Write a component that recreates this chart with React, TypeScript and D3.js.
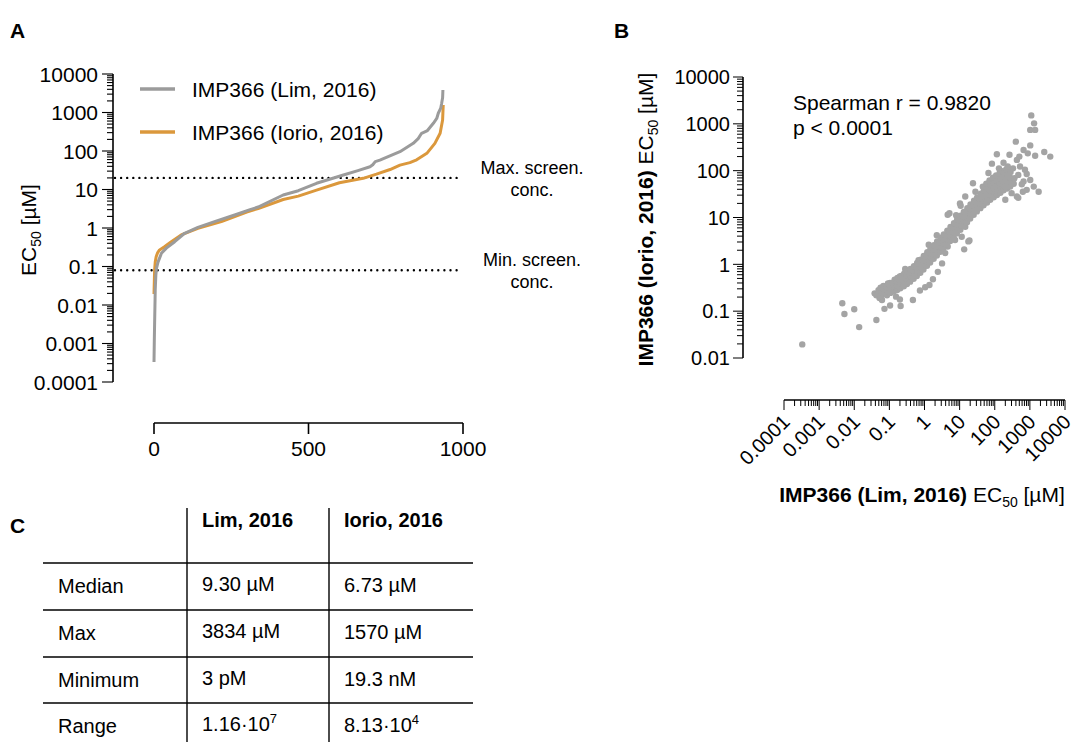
import React from 'react';
import * as d3 from 'd3';

const FONT = 'Liberation Sans, Arial, Helvetica, sans-serif';
const GREY = '#9b9b9b';
const ORANGE = '#db983c';
const DOT = '#a4a4a4';

// Panel A - ranked EC50 curves, [rank, EC50 in µM]
const limCurve: [number, number][] = [
  [0, 0.00033], [1, 0.0012], [2, 0.0034], [3, 0.009], [4, 0.025], [6, 0.06], [8, 0.09],
  [13, 0.13], [24, 0.22], [40, 0.3], [67, 0.44], [99, 0.73], [142, 1.04], [196, 1.46],
  [261, 2.18], [311, 3.0], [337, 3.5], [418, 7.2], [467, 9.3], [526, 14.5], [613, 23.8],
  [660, 31], [699, 39], [708, 44], [716, 53], [731, 58], [796, 96], [839, 158], [855, 210],
  [866, 288], [885, 340], [904, 525], [915, 700], [920, 955], [928, 1300], [931, 1730],
  [934, 2400], [935, 3834],
];
const iorioCurve: [number, number][] = [
  [0, 0.0193], [1, 0.04], [2, 0.081], [4, 0.13], [7, 0.18], [12, 0.23], [18, 0.27],
  [35, 0.33], [56, 0.44], [88, 0.66], [142, 0.98], [218, 1.46], [300, 2.6], [337, 3.2],
  [418, 5.5], [467, 6.73], [526, 9.6], [600, 15], [677, 19.5], [720, 25], [764, 33],
  [796, 43], [828, 50], [850, 59], [883, 87], [909, 158], [926, 288], [934, 640], [936, 1570],
];
const screenLines = [20, 0.08];
const screenLabels = [['Max. screen.', 'conc.'], ['Min. screen.', 'conc.']];
const rankTicks = [0, 500, 1000];
const legendNames = ['IMP366 (Lim, 2016)', 'IMP366 (Iorio, 2016)'];

// Panel B - log10 EC50 (µM): [Lim, Iorio]
const scatterLog: [number, number][] = [
  // stragglers below / left of the band
  [-3.48, -1.71], [-2.34, -0.83], [-2.28, -1.06], [-2.0, -0.96], [-1.86, -1.34], [-1.37, -1.19],
  [-1.37, -0.66], [-1.3, -0.6], [-1.26, -0.58], [-1.21, -0.76], [-1.14, -0.95], [-0.98, -0.88],
  [-0.81, -0.69], [-0.7, -0.75], [-0.68, -0.89], [-0.33, -0.76], [-0.13, -0.56], [0.02, -0.49],
  [0.14, -0.44], [0.24, -0.32], [0.38, -0.16], [0.5, 0.02], [0.59, 0.24], [0.66, 0.38],
  [0.87, 0.52], [1.06, 0.59], [1.13, 0.32], [1.25, 0.49], [1.16, 0.8], [1.28, 0.51],
  [-0.98, -0.4], [-0.7, -0.26], [-0.17, 0.09], [0.35, 0.62], [0.71, 1.09], [0.66, 1.06],
  [1.01, 1.3], [1.03, 1.25], [1.16, 1.45], [1.38, 1.73], [-1.42, -0.62], [-1.28, -0.72],
  [-0.55, -0.1], [0.12, 0.42], [0.9, 1.05], [1.45, 1.55],
  // dense band
  [-1.33, -0.64], [-1.31, -0.55], [-1.24, -0.68], [-1.22, -0.59], [-1.25, -0.5],
  [-1.16, -0.63], [-1.14, -0.54], [-1.17, -0.46], [-1.07, -0.66], [-1.05, -0.57],
  [-1.08, -0.49], [-1.04, -0.41], [-0.97, -0.61], [-0.95, -0.51], [-0.99, -0.43],
  [-0.88, -0.58], [-0.86, -0.48], [-0.9, -0.39], [-0.85, -0.33], [-0.78, -0.55],
  [-0.76, -0.45], [-0.8, -0.36], [-0.77, -0.29], [-0.69, -0.51], [-0.67, -0.41],
  [-0.7, -0.33], [-0.66, -0.25], [-0.59, -0.47], [-0.57, -0.37], [-0.61, -0.28],
  [-0.58, -0.2], [-0.5, -0.42], [-0.48, -0.32], [-0.51, -0.23], [-0.47, -0.15],
  [-0.41, -0.37], [-0.39, -0.27], [-0.42, -0.18], [-0.4, -0.1], [-0.31, -0.31],
  [-0.29, -0.21], [-0.33, -0.12], [-0.3, -0.04], [-0.22, -0.25], [-0.2, -0.15],
  [-0.23, -0.06], [-0.21, 0.03], [-0.12, -0.18], [-0.1, -0.08], [-0.13, 0.02],
  [-0.11, 0.1], [-0.03, -0.11], [-0.01, -0.01], [-0.04, 0.09], [-0.02, 0.18],
  [0.07, -0.03], [0.09, 0.07], [0.06, 0.16], [0.08, 0.26], [0.16, 0.04], [0.18, 0.14],
  [0.15, 0.24], [0.17, 0.34], [0.26, 0.12], [0.28, 0.21], [0.25, 0.31], [0.27, 0.41],
  [0.35, 0.19], [0.37, 0.29], [0.34, 0.39], [0.36, 0.49], [0.45, 0.27], [0.47, 0.37],
  [0.44, 0.47], [0.46, 0.57], [0.54, 0.35], [0.56, 0.45], [0.53, 0.54], [0.55, 0.64],
  [0.64, 0.43], [0.66, 0.53], [0.63, 0.62], [0.65, 0.72], [0.73, 0.5], [0.75, 0.6],
  [0.72, 0.7], [0.74, 0.8], [0.83, 0.58], [0.85, 0.68], [0.82, 0.78], [0.84, 0.88],
  [0.92, 0.66], [0.94, 0.76], [0.91, 0.86], [0.93, 0.96], [1.02, 0.74], [1.04, 0.84],
  [1.01, 0.94], [1.03, 1.04], [1.11, 0.82], [1.13, 0.92], [1.1, 1.02], [1.12, 1.12],
  [1.21, 0.9], [1.23, 1.0], [1.2, 1.1], [1.22, 1.2], [1.3, 0.98], [1.32, 1.08],
  [1.29, 1.18], [1.31, 1.28], [1.4, 1.06], [1.42, 1.16], [1.39, 1.26], [1.41, 1.36],
  [1.49, 1.13], [1.51, 1.23], [1.48, 1.33], [1.5, 1.43], [1.59, 1.2], [1.61, 1.3],
  [1.58, 1.4], [1.6, 1.51], [1.68, 1.26], [1.7, 1.36], [1.67, 1.46], [1.69, 1.57],
  [1.66, 1.66], [1.78, 1.32], [1.8, 1.42], [1.77, 1.52], [1.79, 1.63], [1.76, 1.72],
  [1.87, 1.38], [1.89, 1.48], [1.86, 1.58], [1.88, 1.69], [1.85, 1.79], [1.97, 1.43],
  [1.99, 1.53], [1.96, 1.63], [1.98, 1.74], [1.95, 1.85], [2.06, 1.48], [2.08, 1.58],
  [2.05, 1.68], [2.07, 1.79], [2.04, 1.9], [2.16, 1.53], [2.18, 1.63], [2.15, 1.73],
  [2.17, 1.84], [2.14, 1.95], [2.25, 1.58], [2.27, 1.68], [2.24, 1.78], [2.26, 1.88],
  [2.23, 1.99], [2.35, 1.62], [2.37, 1.72], [2.34, 1.82], [2.36, 1.93], [2.33, 2.03],
  [2.44, 1.66], [2.46, 1.76], [2.43, 1.86], [2.45, 1.97], [2.54, 1.72], [2.56, 1.84],
  // scatter at the top end
  [3.04, 3.18], [3.12, 3.01], [3.01, 2.87], [3.15, 2.87], [2.6, 2.62], [3.01, 2.54],
  [2.06, 2.35], [2.42, 2.34], [2.82, 2.44], [2.94, 2.37], [3.41, 2.4], [3.58, 2.3],
  [3.15, 2.32], [1.92, 2.15], [2.25, 2.17], [2.37, 2.09], [2.63, 2.23], [2.72, 2.09],
  [2.86, 2.02], [2.67, 1.91], [2.91, 1.93], [2.82, 1.77], [3.01, 1.8], [2.77, 1.71],
  [3.11, 1.66], [2.91, 1.59], [2.8, 1.55], [3.25, 1.55], [2.67, 1.42], [2.48, 1.52],
  [2.3, 1.38], [2.63, 1.45], [2.52, 2.05], [2.12, 2.05], [1.82, 1.95], [2.7, 2.3],
];
const spearmanText = ['Spearman r = 0.9820', 'p < 0.0001'];

// Panel C - summary table
const tableColumns = ['Lim, 2016', 'Iorio, 2016'];
const tableRows = ['Median', 'Max', 'Minimum', 'Range'];
const limStats = ['9.30 µM', '3834 µM', '3 pM', '1.16·10^7'];
const iorioStats = ['6.73 µM', '1570 µM', '19.3 nM', '8.13·10^4'];

const isDecade = (v: number) => Math.abs(Math.log10(v) - Math.round(Math.log10(v))) < 1e-6;
const fmt = (v: number) => String(+v.toPrecision(1));

function Sup({ s }: { s: string }) {
  const [base, exp] = s.split('^');
  if (!exp) return <>{s}</>;
  return (
    <>
      {base}
      <tspan dy={-8} fontSize={13}>{exp}</tspan>
    </>
  );
}

function PanelA() {
  const x = d3.scaleLinear().domain([0, 1000]).range([154, 463]);
  const y = d3.scaleLog().domain([0.0001, 10000]).range([382, 74]);
  const ticks = y.ticks();
  const line = d3.line<[number, number]>().x(d => x(d[0])).y(d => y(d[1]));
  const axisX = 113;
  return (
    <g>
      {/* y axis */}
      <line x1={axisX} x2={axisX} y1={y(10000)} y2={y(0.0001)} stroke="#000" strokeWidth={1.6} />
      {ticks.map((t, i) => (
        <line key={i} x1={axisX - (isDecade(t) ? 11 : 6)} x2={axisX} y1={y(t)} y2={y(t)} stroke="#000" strokeWidth={1.1} />
      ))}
      {ticks.filter(isDecade).map((t, i) => (
        <text key={i} x={98} y={y(t)} dy="0.36em" textAnchor="end" fontSize={21}>{fmt(t)}</text>
      ))}
      <text transform={`translate(36,${(y(10000) + y(0.0001)) / 2 + 2}) rotate(-90)`} textAnchor="middle" fontSize={21}>
        EC<tspan dy={5} fontSize={14}>50</tspan><tspan dy={-5}> [µM]</tspan>
      </text>
      {/* x axis */}
      <line x1={x(0)} x2={x(1000)} y1={423} y2={423} stroke="#000" strokeWidth={1.6} />
      {rankTicks.map(t => (
        <g key={t}>
          <line x1={x(t)} x2={x(t)} y1={423} y2={434} stroke="#000" strokeWidth={1.6} />
          <text x={x(t)} y={456} textAnchor="middle" fontSize={21}>{t}</text>
        </g>
      ))}
      {/* screening limits */}
      {screenLines.map((v, i) => (
        <g key={i}>
          <line x1={axisX + 2} x2={460} y1={y(v)} y2={y(v)} stroke="#000" strokeWidth={2.4} strokeDasharray="0 6.1" strokeLinecap="round" />
          <text x={532} y={y(v) - 4} textAnchor="middle" fontSize={18}>{screenLabels[i][0]}</text>
          <text x={532} y={y(v) + 18} textAnchor="middle" fontSize={18}>{screenLabels[i][1]}</text>
        </g>
      ))}
      {/* curves */}
      <path d={line(iorioCurve) || ''} fill="none" stroke={ORANGE} strokeWidth={3} strokeLinejoin="round" />
      <path d={line(limCurve) || ''} fill="none" stroke={GREY} strokeWidth={3} strokeLinejoin="round" />
      {/* legend */}
      {legendNames.map((n, i) => (
        <g key={n}>
          <line x1={140} x2={175} y1={89 + i * 43} y2={89 + i * 43} stroke={i === 0 ? GREY : ORANGE} strokeWidth={3.5} />
          <text x={192} y={97 + i * 43} fontSize={21}>{n}</text>
        </g>
      ))}
    </g>
  );
}

function PanelB() {
  const x = d3.scaleLog().domain([0.0001, 10000]).range([784, 1065]);
  const y = d3.scaleLog().domain([0.01, 10000]).range([358, 77]);
  const xt = x.ticks();
  const yt = y.ticks();
  const axisX = 743;
  const axisY = 400;
  return (
    <g>
      <line x1={axisX} x2={axisX} y1={y(10000)} y2={y(0.01)} stroke="#000" strokeWidth={1.6} />
      {yt.map((t, i) => (
        <line key={i} x1={axisX - (isDecade(t) ? 10 : 6)} x2={axisX} y1={y(t)} y2={y(t)} stroke="#000" strokeWidth={1} />
      ))}
      {yt.filter(isDecade).map((t, i) => (
        <text key={i} x={730} y={y(t)} dy="0.36em" textAnchor="end" fontSize={20}>{fmt(t)}</text>
      ))}
      <text transform={`translate(653,${(y(10000) + y(0.01)) / 2 + 2}) rotate(-90)`} textAnchor="middle" fontSize={21}>
        <tspan fontWeight="bold">IMP366 (Iorio, 2016)</tspan> EC<tspan dy={5} fontSize={14}>50</tspan><tspan dy={-5}> [µM]</tspan>
      </text>

      <line x1={x(0.0001)} x2={x(10000)} y1={axisY} y2={axisY} stroke="#000" strokeWidth={1.6} />
      {xt.map((t, i) => (
        <line key={i} x1={x(t)} x2={x(t)} y1={axisY} y2={axisY + (isDecade(t) ? 10 : 6)} stroke="#000" strokeWidth={1} />
      ))}
      {xt.filter(isDecade).map((t, i) => (
        <text key={i} transform={`translate(${x(t) + 2},${axisY + 18}) rotate(-45)`} textAnchor="end" dy="0.36em" fontSize={20}>{fmt(t)}</text>
      ))}
      <text x={922} y={502} textAnchor="middle" fontSize={21}>
        <tspan fontWeight="bold">IMP366 (Lim, 2016)</tspan> EC<tspan dy={5} fontSize={14}>50</tspan><tspan dy={-5}> [µM]</tspan>
      </text>

      {scatterLog.map((d, i) => (
        <circle key={i} cx={x(Math.pow(10, d[0]))} cy={y(Math.pow(10, d[1]))} r={3.2} fill={DOT} />
      ))}
      {spearmanText.map((s, i) => (
        <text key={i} x={793} y={110 + i * 25} fontSize={21}>{s}</text>
      ))}
    </g>
  );
}

function PanelC() {
  const colX = [58, 202, 344];
  const lineY = [563, 610, 657, 703];
  return (
    <g>
      <line x1={187} x2={187} y1={508} y2={742} stroke="#000" strokeWidth={1.4} />
      <line x1={329} x2={329} y1={508} y2={742} stroke="#000" strokeWidth={1.4} />
      {lineY.map(v => (
        <line key={v} x1={43} x2={473} y1={v} y2={v} stroke="#000" strokeWidth={1.4} />
      ))}
      {tableColumns.map((c, i) => (
        <text key={c} x={colX[i + 1]} y={527} fontSize={20} fontWeight="bold">{c}</text>
      ))}
      {tableRows.map((r, i) => (
        <g key={r}>
          <text x={colX[0]} y={lineY[i] + 30} fontSize={20}>{r}</text>
          <text x={colX[1]} y={lineY[i] + 28} fontSize={20}><Sup s={limStats[i]} /></text>
          <text x={colX[2]} y={lineY[i] + 29} fontSize={20}><Sup s={iorioStats[i]} /></text>
        </g>
      ))}
    </g>
  );
}

export default function App() {
  return (
    <div style={{ position: 'absolute', left: 0, top: 0 }}>
      <svg width={1076} height={744} fontFamily={FONT} style={{ display: 'block', background: '#fff' }}>
        <text x={10} y={38} fontSize={21} fontWeight="bold">A</text>
        <text x={614} y={38} fontSize={21} fontWeight="bold">B</text>
        <text x={10} y={533} fontSize={21} fontWeight="bold">C</text>
        <PanelA />
        <PanelB />
        <PanelC />
      </svg>
    </div>
  );
}
